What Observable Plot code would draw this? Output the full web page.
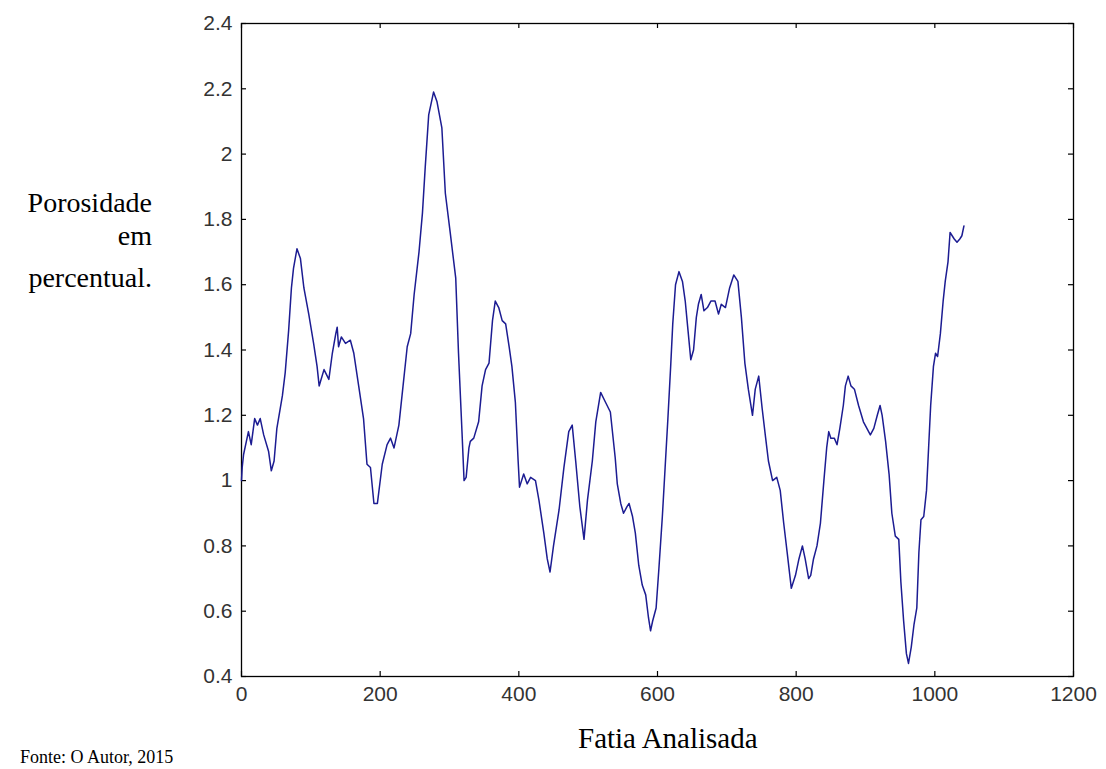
<!DOCTYPE html>
<html>
<head>
<meta charset="utf-8">
<script src="https://cdn.jsdelivr.net/npm/d3@7"></script>
<script src="https://cdn.jsdelivr.net/npm/@observablehq/plot@0.6"></script>
<style>
  html, body { margin: 0; padding: 0; background: #fff; }
  #wrap { position: relative; width: 1106px; height: 769px; overflow: hidden; background: #fff; }
  #chart { position: absolute; left: 0; top: 0; }
  .serif { position: absolute; font-family: "Liberation Serif", "Times New Roman", serif; color: #000; white-space: nowrap; line-height: 1; }
  .ylab { left: 0; width: 152px; text-align: right; font-size: 28px; }
</style>
</head>
<body>
<div id="wrap">
  <div id="chart"></div>
  <div class="serif ylab" style="top:189px">Porosidade</div>
  <div class="serif ylab" style="top:222px">em</div>
  <div class="serif ylab" style="top:264px">percentual.</div>
  <div class="serif" id="xlab" style="font-size:29px; top:724px; left:578px;">Fatia Analisada</div>
  <div class="serif" style="font-size:18px; top:748px; left:20px;">Fonte: O Autor, 2015</div>
</div>
<script>
const sliceX = [0,1,3,10,14,19,23,27,32,39,43,47,51,59,63,68,72,75,80,85,90,97,104,109,112,119,126,131,136,138,140,144,150,157,162,169,176,181,186,191,196,203,210,215,220,227,234,239,244,249,256,261,
265,270,277,282,289,294,301,309,313,318,321,324,328,330,335,342,347,352,357,362,366,371,376,381,386,390,395,399,401,407,412,417,424,429,436,441,445,450,458,465,472,477,482,488,494,499,506,511,518,525,532,539,
542,547,551,556,559,564,568,573,578,583,587,590,593,598,602,607,611,615,619,622,626,631,636,640,644,648,652,656,659,663,667,672,677,683,688,692,698,704,710,716,721,726,731,737,741,746,751,756,760,766,772,777,782,787,793,799,804,809,813,818,
821,825,830,835,840,844,847,850,855,859,863,868,871,875,879,884,890,897,902,907,912,917,921,924,929,934,938,943,948,951,955,959,962,966,970,974,977,980,984,988,991,994,998,1001,1004,1008,1012,1015,1019,1022,1025,1028,1032,1036,1039,1042];
const porosity = [1.00,1.04,1.08,1.15,1.11,1.19,1.17,1.19,1.14,1.09,1.03,1.06,1.16,1.26,1.33,1.46,1.59,1.65,1.71,1.68,1.59,1.51,1.42,1.35,1.29,1.34,1.31,1.39,1.45,1.47,1.41,1.44,1.42,1.43,1.39,1.29,1.19,1.05,1.04,0.93,0.93,1.05,1.11,1.13,1.10,1.17,1.31,1.41,1.45,1.57,1.70,1.82,
1.96,2.12,2.19,2.16,2.08,1.88,1.76,1.62,1.39,1.15,1.00,1.01,1.10,1.12,1.13,1.18,1.29,1.34,1.36,1.49,1.55,1.53,1.49,1.48,1.41,1.35,1.24,1.06,0.98,1.02,0.99,1.01,1.00,0.94,0.84,0.76,0.72,0.80,0.91,1.04,1.15,1.17,1.06,0.92,0.82,0.94,1.06,1.18,1.27,1.24,1.21,1.07,
0.99,0.93,0.90,0.92,0.93,0.89,0.84,0.74,0.68,0.65,0.58,0.54,0.57,0.61,0.73,0.89,1.04,1.19,1.35,1.48,1.60,1.64,1.61,1.55,1.46,1.37,1.40,1.50,1.54,1.57,1.52,1.53,1.55,1.55,1.51,1.54,1.53,1.59,1.63,1.61,1.50,1.36,1.28,1.20,1.28,1.32,1.22,1.13,1.06,1.00,1.01,0.97,0.87,0.78,0.67,0.71,0.76,0.80,0.76,0.70,
0.71,0.76,0.80,0.87,1.00,1.10,1.15,1.13,1.13,1.11,1.16,1.23,1.29,1.32,1.29,1.28,1.23,1.18,1.16,1.14,1.16,1.20,1.23,1.20,1.12,1.02,0.90,0.83,0.82,0.69,0.57,0.47,0.44,0.49,0.56,0.61,0.78,0.88,0.89,0.97,1.10,1.23,1.35,1.39,1.38,1.45,1.55,1.61,1.67,1.76,1.75,1.74,1.73,1.74,1.75,1.78];
const xTicks = [0,200,400,600,800,1000,1200];
const yTicks = [0.4,0.6,0.8,1,1.2,1.4,1.6,1.8,2,2.2,2.4];
const yTickLabels = ["0.4","0.6","0.8","1","1.2","1.4","1.6","1.8","2","2.2","2.4"];

const data = sliceX.map((x, i) => ({x, y: porosity[i]}));

const W = 1106, H = 716;
const mL = 241, mR = 33, mT = 23, mB = 40;
const innerW = W - mL - mR, innerH = H - mT - mB;
const tickLen = 5;

const chart = Plot.plot({
  width: W,
  height: H,
  marginLeft: mL,
  marginRight: mR,
  marginTop: mT,
  marginBottom: mB,
  style: {fontFamily: "'Liberation Sans', Arial, sans-serif", fontSize: "21px", color: "#333", background: "#fff"},
  x: {domain: [0, 1200]},
  y: {domain: [0.4, 2.4]},
  marks: [
    Plot.frame({stroke: "#000", strokeWidth: 1.3}),
    Plot.axisX(xTicks, {anchor: "bottom", tickSize: 0, tickPadding: 10, label: null, tickFormat: d => String(d), fill: "#333", letterSpacing: 2}),
    Plot.axisY(yTicks, {anchor: "left", tickSize: 0, tickPadding: 9, label: null, tickFormat: d => yTickLabels[yTicks.indexOf(d)], fill: "#333", letterSpacing: 1.5}),
    Plot.tickX(xTicks, {x: d => d, stroke: "#000", strokeWidth: 1.2, insetTop: innerH - tickLen}),
    Plot.tickX(xTicks, {x: d => d, stroke: "#000", strokeWidth: 1.2, insetBottom: innerH - tickLen}),
    Plot.tickY(yTicks, {y: d => d, stroke: "#000", strokeWidth: 1.2, insetRight: innerW - tickLen}),
    Plot.tickY(yTicks, {y: d => d, stroke: "#000", strokeWidth: 1.2, insetLeft: innerW - tickLen}),
    Plot.line(data, {x: "x", y: "y", stroke: "#1c1c92", strokeWidth: 1.5})
  ]
});
document.getElementById("chart").appendChild(chart);
</script>
</body>
</html>
